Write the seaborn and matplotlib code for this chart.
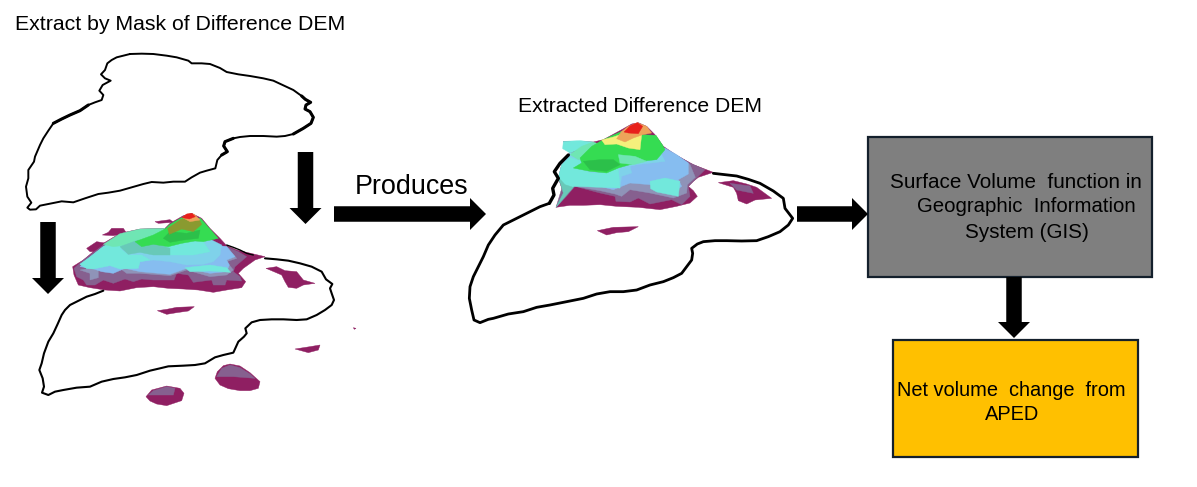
# Flow diagram: extract difference DEM by mask, then net volume change
import matplotlib
matplotlib.use('Agg')
import numpy as np
import matplotlib.pyplot as plt
import seaborn as sns

# colours
purple = '#8f1f62'
lavender = '#86608f'
slate = '#8f93b8'
blue = '#86bdf0'
sky = '#7fd2ea'
cyan = '#72e8dc'
teal = '#68c9b8'
mint = '#6fe6b4'
green = '#35dc52'
dkgreen = '#2cc04a'
olive = '#8a9a30'
orange = '#eda45a'
yellow = '#f5f07c'
red = '#e8201c'

mask_top = [(330,42),(365,41),(400,42),(440,47),(470,52),(505,62),(515,70),(545,70),(570,72),(600,84),(620,96),
            (655,103),(690,108),(730,115),(760,122),(790,136),(820,150),(845,168),(856,178),(872,187),(858,195),
            (855,207),(870,215),(880,232),(873,250),(850,265),(820,282),(795,288),(770,290),(730,288),(690,288),
            (660,291),(640,295),(615,305),(611,318),(622,335),(605,345),(592,360),(586,385),(560,392),(540,398),
            (515,412),(495,425),(460,425),(430,428),(395,426),(370,432),(335,442),(300,452),(265,458),(235,462),
            (195,475),(160,487),(125,484),(90,491),(60,497),(48,508),(30,509),(22,503),(34,488),(22,470),(18,440),
            (25,415),(25,390),(42,365),(45,350),(60,315),(70,295),(85,272),(100,250),(125,237),(150,225),(180,212),
            (205,195),(225,187),(245,180),(250,165),(238,152),(248,135),(272,122),(255,115),(243,103),(255,90),
            (262,70),(275,60),(290,52),(330,42)]
mask_top_thick = [[(100,250),(125,237),(150,225),(180,212),(205,195)],
                  [(845,168),(856,178),(872,187),(858,195),(855,207),(870,215),(880,232),(873,250),(850,265),(820,282)],
                  [(640,295),(615,305),(611,318),(622,335),(605,345)]]
mask_over = [(250,272),(225,282),(200,290),(170,305),(150,315),(135,330),(125,345),(113,372),(100,400),(85,425),
             (72,460),(65,490),(58,510),(68,535),(72,560),(66,578),(85,585),(105,575),(130,570),(170,563),(210,560),
             (245,545),(280,537),(315,532),(350,525),(390,512),(420,505),(445,499),(490,497),(525,495),(555,490),
             (585,472),(610,465),(640,458),(655,425),(672,410),(680,400),(676,385),(695,367),(720,360),(755,358),
             (790,358),(830,360),(860,358),(890,345),(915,330),(935,315),(942,300),(935,280),(930,265),(937,252),
             (918,238),(905,215),(875,200),(840,190),(805,182),(770,178),(735,175)]
mask_over_top = [(620,135),(640,142),(660,150),(680,160),(700,165)]
mask_result = [(268,280),(240,290),(200,310),(160,330),(130,345),(105,375),(85,405),(70,440),(55,470),(40,500),
               (30,530),(28,565),(35,600),(42,630),(60,638),(85,628),(100,625),(145,612),(190,605),(230,592),(270,585),
               (320,575),(370,565),(410,552),(450,545),(490,545),(530,540),(570,525),(610,515),(640,503),(665,490),
               (680,470),(695,450),(698,430),(695,415),(712,402),(730,395),(765,392),(800,392),(845,393),(890,392),
               (925,380),(960,365),(985,345),(998,325),(985,308),(975,295),(970,265),(940,243),(900,220),(865,208),
               (830,198),(760,190)]
mask_result_left = [(268,280),(282,255),(278,235),(295,205),(283,185),(300,160),(325,135)]

# surface on the left, crop coordinates, painted back to front
surface_a = [
    (purple, [(8,185),(40,165),(100,115),(150,85),(210,72),(285,70),(300,55),(340,32),(365,25),(395,40),(420,70),
              (450,100),(470,122),(500,135),(585,155),(555,165),(520,190),(505,205),(527,230),(515,248),(470,255),
              (430,262),(385,255),(340,252),(295,250),(250,245),(200,248),(150,258),(105,255),(60,248),(25,240),(12,210)]),
    (purple, [(97,90),(115,82),(125,70),(160,70),(170,85),(130,92)]),
    (purple, [(50,130),(80,110),(110,115),(80,140),(60,140)]),
    (purple, [(255,50),(300,44),(310,52),(265,55)]),
    (lavender, [(12,190),(40,165),(100,120),(300,100),(470,125),(505,140),(530,155),(495,185),(490,200),(510,215),
                (515,228),(470,225),(465,240),(430,240),(425,225),(370,232),(355,210),(320,205),(312,225),(250,225),
                (215,222),(190,230),(165,222),(130,235),(100,225),(75,240),(50,240),(40,225),(20,215)]),
    (slate, [(30,195),(60,205),(60,225),(85,218),(85,195),(150,190),(170,205),(210,205),(300,212),(350,195),(420,215),
             (470,210),(490,195),(470,170),(500,160),(470,125)]),
    (blue, [(30,185),(65,190),(95,200),(130,205),(165,190),(210,200),(300,208),(350,190),(420,205),(470,200),(478,180),
            (470,165),(495,155),(470,125),(300,100),(100,125)]),
    (sky, [(30,178),(55,160),(100,125),(150,97),(330,70),(340,100),(425,105),(455,120),(450,150),(430,170),(400,178),
           (350,180),(300,170),(250,165),(210,170),(200,190),(150,190),(120,180),(70,190),(50,190)]),
    (cyan, [(30,178),(55,160),(100,125),(150,97),(210,90),(230,105),(190,125),(150,130),(175,150),(215,150),(240,165),
            (210,170),(205,190),(150,192),(120,182),(70,192),(50,190)]),
    (cyan, [(345,188),(420,180),(470,188),(482,202),(420,198),(360,200)]),
    (cyan, [(260,130),(330,110),(400,110),(420,140),(370,150),(320,150),(290,150)]),
    (mint, [(100,118),(150,86),(210,72),(285,70),(270,90),(220,110),(170,120),(130,125)]),
    (teal, [(150,125),(205,105),(255,115),(300,130),(300,150),(250,150),(210,142),(175,148)]),
    (green, [(195,110),(250,90),(285,72),(300,58),(340,35),(392,40),(420,72),(445,100),(400,110),(375,108),(335,115),
             (295,125),(250,118),(215,125)]),
    (dkgreen, [(280,100),(300,80),(350,85),(390,75),(385,100),(340,105),(300,112)]),
    (olive, [(293,70),(335,42),(387,42),(395,58),(370,80),(335,72),(298,88)]),
    (orange, [(338,38),(352,27),(372,27),(390,45),(360,50)]),
    (red, [(336,38),(350,27),(366,25),(376,35),(358,42)]),
]

# surface in the middle, crop coordinates
surface_b = [
    (purple, [(18,268),(60,262),(100,262),(150,260),(200,265),(265,268),(330,275),(380,265),(420,255),(442,235),
              (430,218),(415,205),(430,190),(445,178),(490,163),(430,140),(380,112),(340,85),(315,50),(290,25),
              (265,14),(245,18),(215,35),(160,65),(130,72),(90,70),(40,70),(60,105),(35,140),(25,180),(40,225)]),
    (lavender, [(18,268),(45,240),(75,205),(150,225),(195,235),(198,250),(240,252),(265,240),(300,258),(365,245),
                (395,260),(420,235),(415,205),(440,180),(465,155),(420,135),(380,112),(300,110),(60,130)]),
    (slate, [(75,205),(150,218),(195,228),(215,235),(240,215),(300,225),(370,240),(410,225),(412,200),(436,178),(420,140),
             (380,112),(300,110),(60,130)]),
    (blue, [(45,215),(75,195),(150,205),(190,215),(240,195),(300,200),(380,215),(395,205),(385,185),(415,168),(415,135),
            (380,110),(345,90),(300,90),(60,130),(25,180)]),
    (sky, [(25,180),(35,140),(60,105),(110,95),(210,85),(250,110),(330,100),(345,130),(260,140),(240,145),(245,165),(215,175),
           (210,210),(150,205),(75,195),(45,215)]),
    (cyan, [(25,180),(35,140),(60,118),(95,130),(75,150),(125,165),(170,165),(205,150),(210,210),(150,208),(75,205),(45,215)]),
    (cyan, [(300,190),(345,180),(390,190),(385,235),(320,222),(302,212)]),
    (teal, [(25,178),(40,225),(18,268),(42,240),(70,208),(45,200)]),
    (cyan, [(40,70),(90,68),(130,72),(100,90),(60,105),(38,92)]),
    (mint, [(60,110),(95,85),(130,72),(165,85),(180,110),(125,125),(85,125)]),
    (green, [(90,120),(125,85),(160,65),(215,40),(275,50),(318,52),(340,85),(345,95),(320,125),(270,130),(240,140),
             (205,150),(170,165),(120,160),(70,150),(95,135)]),
    (dkgreen, [(100,130),(150,125),(190,125),(210,140),(170,160),(120,155)]),
    (mint, [(205,110),(255,115),(290,130),(250,140),(210,135)]),
    (yellow, [(155,66),(190,57),(225,45),(275,50),(270,95),(235,90),(200,78),(165,80)]),
    (orange, [(215,40),(235,25),(262,14),(290,25),(305,45),(278,50),(250,60),(225,72),(200,62)]),
    (red, [(222,42),(240,24),(262,14),(278,25),(265,47),(235,45)]),
]

# low patches around the surface, crop coordinates
patches_a = [
    (purple, [(738,205),(770,200),(795,212),(830,215),(850,240),(885,250),(850,255),(830,265),(805,262),(795,245),(785,225)]),
    (purple, [(412,332),(440,328),(470,322),(523,320),(505,333),(470,338),(440,343)]),
    (purple, [(825,447),(870,440),(900,435),(895,450),(865,458)]),
    (purple, [(1000,383),(1008,385),(1003,388)]),
    (purple, [(585,535),(592,515),(610,497),(630,492),(660,498),(690,518),(720,545),(715,565),(690,572),(660,572),
              (625,566),(600,555)]),
    (lavender, [(590,530),(605,505),(630,495),(660,503),(690,522),(705,535),(640,530)]),
    (purple, [(378,590),(395,570),(440,558),(480,565),(492,580),(485,602),(440,617),(410,612),(390,603)]),
    (lavender, [(385,585),(400,572),(440,560),(465,565),(460,585),(420,585)]),
]
patches_b = [
    (purple, [(775,218),(820,212),(860,222),(890,232),(935,265),(885,270),(860,282),(835,272),(830,250),(820,232)]),
    (lavender, [(810,220),(870,228),(880,250),(830,240)]),
    (purple, [(412,362),(460,352),(535,350),(505,365),(470,368),(440,375)]),
]

# boxes: left, top, right, bottom
box_gis = (868, 137, 1152, 277)
box_aped = (893, 340, 1138, 457)

# arrows: start, end
arrow_pos = [((305.5, 152), (305.5, 224)),
             ((48, 222), (48, 294)),
             ((334, 214), (486, 214)),
             ((797, 214), (868, 214)),
             ((1014, 277), (1014, 338))]

labels = [('Extract by Mask of Difference DEM', 15, 24, 15.3, 'left'),
          ('Extracted Difference DEM', 518, 106, 15.2, 'left'),
          ('Produces', 355, 187, 19.4, 'left'),
          ('Surface Volume  function in', 890, 182, 14.9, 'left'),
          ('Geographic  Information', 917, 207, 14.7, 'left'),
          ('System (GIS)', 965, 232, 14.9, 'left'),
          ('Net volume  change  from', 897, 390, 14.4, 'left'),
          ('APED', 1012, 414, 14.4, 'center')]


def place(points, left, top):
    # crop coordinates to picture pixels (crops are scaled 3x)
    pts = np.array(points, dtype=float)
    return pts[:, 0] / 3 + left, pts[:, 1] / 3 + top


def draw_outline(ax, points, left, top, lw=1.4):
    x, y = place(points, left, top)
    sns.lineplot(x=x, y=y, sort=False, estimator=None, color='black', linewidth=lw,
                 solid_joinstyle='round', ax=ax)


def draw_layers(ax, layers, left, top):
    for color, points in layers:
        x, y = place(points, left, top)
        ax.fill(x, y, color=color, linewidth=0.3)


sns.set_theme(style='white')
plt.rcParams['font.family'] = ['Liberation Sans', 'DejaVu Sans']

fig = plt.figure(figsize=(11.97, 4.87), dpi=100)
ax = fig.add_axes([0, 0, 1, 1])
ax.set_xlim(0, 1197)
ax.set_ylim(487, 0)
ax.axis('off')

draw_outline(ax, mask_top, 20, 40)
for part in mask_top_thick:
    draw_outline(ax, part, 20, 40, lw=2.2)
draw_outline(ax, mask_over, 20, 200, lw=1.5)
draw_outline(ax, mask_over_top, 20, 200, lw=1.0)
draw_layers(ax, patches_a, 20, 200)
draw_layers(ax, surface_a, 70, 205)

draw_outline(ax, mask_result, 460, 110, lw=2.0)
draw_outline(ax, mask_result_left, 460, 110, lw=2.4)
draw_layers(ax, patches_b, 460, 110)
draw_layers(ax, surface_b, 550, 118)

for (l, t, r, b), face in zip([box_gis, box_aped], ['#7f7f7f', '#ffc000']):
    ax.fill([l, r, r, l], [t, t, b, b], facecolor=face, edgecolor='#14202c', linewidth=1.6)

for (x0, y0), (x1, y1) in arrow_pos:
    ax.arrow(x0, y0, x1 - x0, y1 - y0, width=15.5, head_width=32, head_length=16,
             length_includes_head=True, color='black', linewidth=0, zorder=5)

for text, x, y, size, ha in labels:
    ax.text(x, y, text, fontsize=size, ha=ha, va='center', color='black', zorder=6)

fig.savefig('out.png', dpi=100, facecolor='white')
